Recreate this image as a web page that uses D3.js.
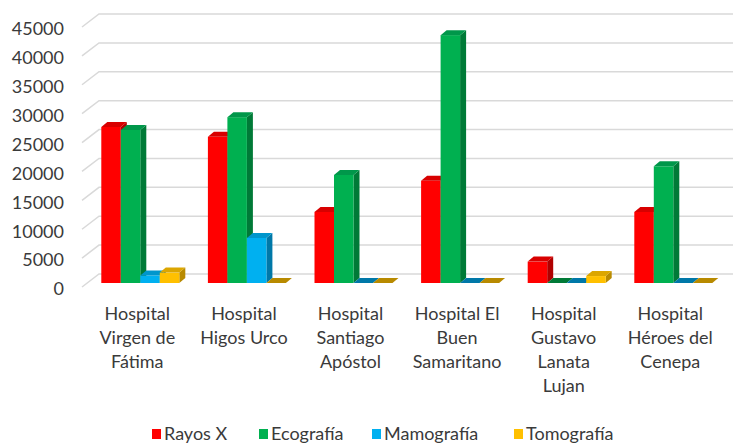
<!DOCTYPE html>
<html>
<head>
<meta charset="utf-8">
<script src="https://cdn.jsdelivr.net/npm/d3@7"></script>
<style>
  body { margin: 0; background: #fff; }
  text { font-family: Lato, "Open Sans", sans-serif; fill: #3a3a3a; }
</style>
</head>
<body>
<svg width="733" height="445"></svg>
<script>
var hospitals = [
  ["Hospital", "Virgen de", "Fátima"],
  ["Hospital", "Higos Urco"],
  ["Hospital", "Santiago", "Apóstol"],
  ["Hospital El", "Buen", "Samaritano"],
  ["Hospital", "Gustavo", "Lanata", "Lujan"],
  ["Hospital", "Héroes del", "Cenepa"]
];
var series = ["Rayos X", "Ecografía", "Mamografía", "Tomografía"];
var rayosX     = [27000, 25300, 12300, 17700, 3700, 12300];
var ecografia  = [26500, 28700, 18700, 42900, 0, 20200];
var mamografia = [1300, 7800, 0, 0, 0, 0];
var tomografia = [1800, 0, 0, 0, 1200, 0];
var yTicks = [0, 5000, 10000, 15000, 20000, 25000, 30000, 35000, 40000, 45000];

var fronts = ["#ff0000", "#00b050", "#00b0f0", "#ffc000"];
var tops   = ["#d80000", "#00974a", "#0096cc", "#dca600"];
var sides  = ["#b00000", "#007a37", "#0078a8", "#b88a00"];

var values = [rayosX, ecografia, mamografia, tomografia];

var svg = d3.select("svg");

// wall depth (floor front edge -> back wall)
var depthX = 17, depthY = -13;
// bar depth
var barDX = 6, barDY = -5;
// bars sit slightly behind the front edge
var barShiftX = 5, barShiftY = -4;

var y = d3.scaleLinear().domain([0, 45000]).range([287, 27]);
var x0 = d3.scaleBand().domain(d3.range(hospitals.length)).range([82, 82 + 6 * 106.6]);
var x1 = d3.scaleBand().domain(d3.range(series.length)).range([14.3, 92.3]);

// gridlines (front diagonal + back wall)
var grid = svg.append("g").attr("class", "grid");
grid.selectAll("path")
  .data(yTicks)
  .enter().append("path")
    .attr("d", function(d) {
      var yy = y(d);
      return "M82," + yy + "L" + (82 + depthX) + "," + (yy + depthY) + "L733," + (yy + depthY);
    })
    .attr("fill", "none")
    .attr("stroke", "#d9d9d9")
    .attr("stroke-width", 1.5);

// tick labels
svg.append("g").selectAll("text")
  .data(yTicks)
  .enter().append("text")
    .attr("x", 64)
    .attr("y", function(d) { return y(d) + 2; })
    .attr("dy", "0.35em")
    .attr("text-anchor", "end")
    .style("font-size", "18px")
    .text(function(d) { return d; });

// bars
var bars = [];
hospitals.forEach(function(h, i) {
  series.forEach(function(s, j) {
    bars.push({ i: i, j: j, v: values[j][i] });
  });
});

var barG = svg.append("g").selectAll("g")
  .data(bars)
  .enter().append("g");

function geom(d) {
  var xl = x0(d.i) + x1(d.j) + barShiftX,
      w = x1.bandwidth(),
      yb = y(0) + barShiftY,
      yt = y(d.v) + barShiftY;
  return { xl: xl, xr: xl + w, yb: yb, yt: yt };
}

barG.filter(function(d) { return d.v > 0; })
  .append("path")
    .attr("d", function(d) {
      var g = geom(d);
      return "M" + g.xr + "," + g.yt + "L" + (g.xr + barDX) + "," + (g.yt + barDY) +
        "L" + (g.xr + barDX) + "," + (g.yb + barDY) + "L" + g.xr + "," + g.yb + "Z";
    })
    .attr("fill", function(d) { return sides[d.j]; });

barG.filter(function(d) { return d.v > 0; })
  .append("rect")
    .attr("x", function(d) { return geom(d).xl; })
    .attr("y", function(d) { return geom(d).yt; })
    .attr("width", x1.bandwidth())
    .attr("height", function(d) { var g = geom(d); return g.yb - g.yt; })
    .attr("fill", function(d) { return fronts[d.j]; });

barG.append("path")
    .attr("d", function(d) {
      var g = geom(d);
      return "M" + g.xl + "," + g.yt + "L" + g.xr + "," + g.yt +
        "L" + (g.xr + barDX) + "," + (g.yt + barDY) + "L" + (g.xl + barDX) + "," + (g.yt + barDY) + "Z";
    })
    .attr("fill", function(d) { return d.v > 0 ? tops[d.j] : sides[d.j]; });

// category labels
var cat = svg.append("g").selectAll("text")
  .data(hospitals)
  .enter().append("text")
    .attr("x", function(d, i) { return x0(i) + x0.bandwidth() / 2 + 2; })
    .attr("y", 314)
    .attr("text-anchor", "middle")
    .style("font-size", "18px");

cat.selectAll("tspan")
  .data(function(d) { return d; })
  .enter().append("tspan")
    .attr("x", function() { return d3.select(this.parentNode).attr("x"); })
    .attr("dy", function(d, k) { return k === 0 ? "0.35em" : 24; })
    .text(function(d) { return d; });

// legend
var legendX = [152, 259, 372, 514];
var legend = svg.append("g").selectAll("g")
  .data(series)
  .enter().append("g")
    .attr("transform", function(d, i) { return "translate(" + legendX[i] + ",434)"; });

legend.append("rect")
  .attr("x", 0).attr("y", -5)
  .attr("width", 9).attr("height", 10)
  .attr("fill", function(d, i) { return fronts[i]; });

legend.append("text")
  .attr("x", 12)
  .attr("dy", "0.35em")
  .style("font-size", "18px")
  .text(function(d) { return d; });
</script>
</body>
</html>
